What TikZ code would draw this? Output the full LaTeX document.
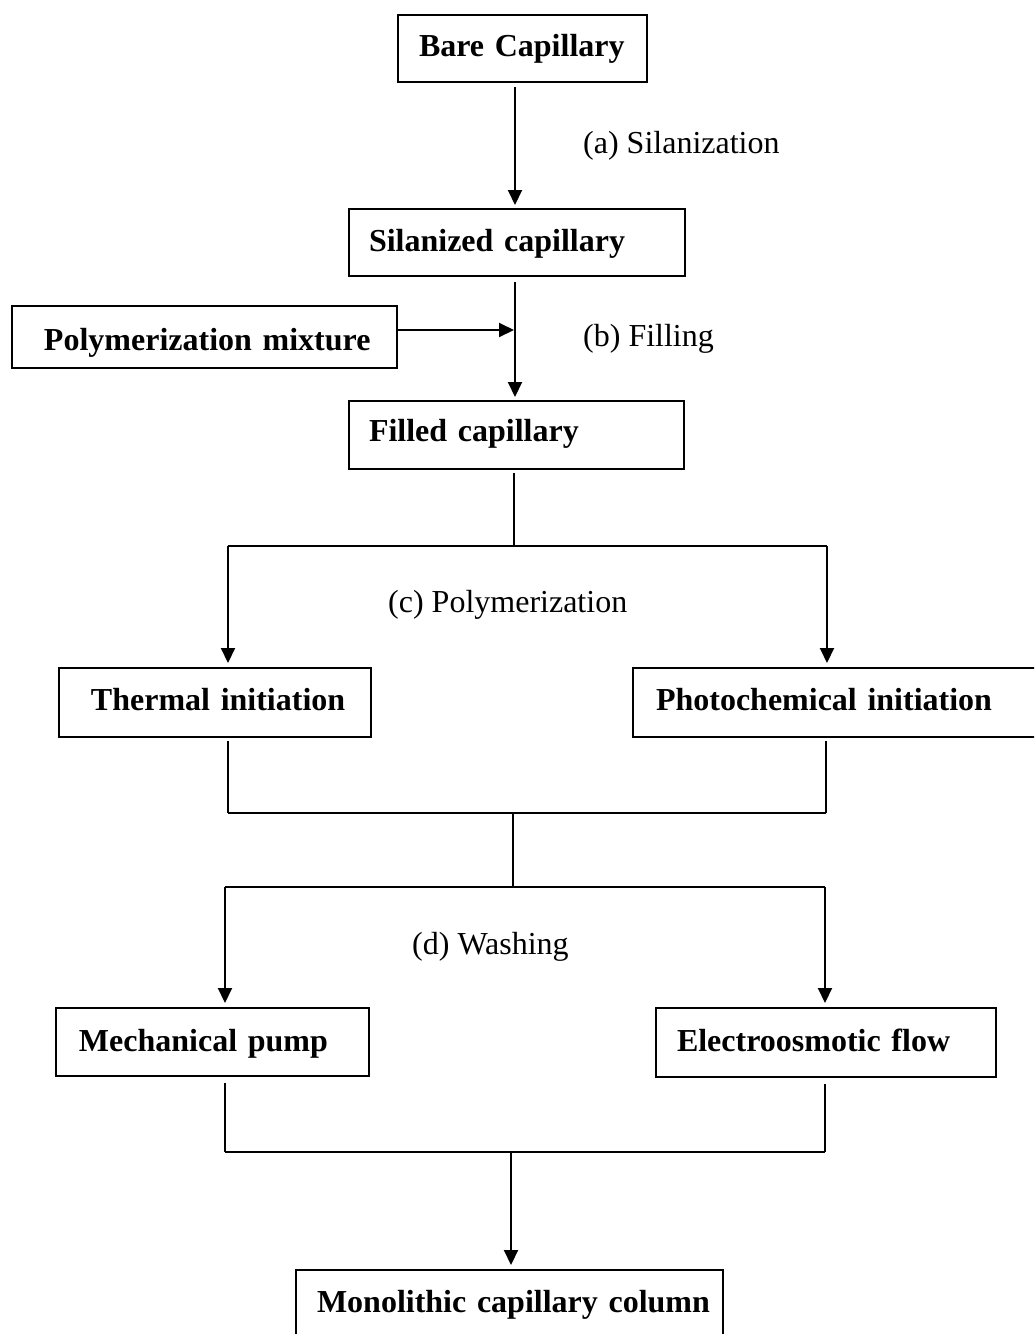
\documentclass[tikz,border=0pt]{standalone}
\usepackage{fontspec}
\setmainfont{Liberation Serif}[BoldFeatures={WordSpace=0.65}]
\usetikzlibrary{arrows.meta}
\begin{document}
\begin{tikzpicture}[x=1pt,y=-1pt,
  box/.style={draw, line width=2pt, inner xsep=0pt, inner ysep=0pt, align=left,
    font=\fontsize{32}{38}\selectfont\bfseries, anchor=base west},
  lab/.style={inner sep=0pt, anchor=base west, font=\fontsize{32}{38}\selectfont},
  ln/.style={line width=2pt},
  arr/.style={line width=2pt, -{Triangle[length=15pt,width=14pt]}}]
\useasboundingbox (0,0) rectangle (1034,1334);
\clip (0,0) rectangle (1034,1334);
% boxes: left, baseline; text width = box width; text height = baseline-top; text depth = bottom-baseline
\node[box, text width=249pt, text height=41pt, text depth=26pt] (bare) at (397,56) {\hspace*{21pt}Bare Capillary};
\node[box, text width=336pt, text height=42pt, text depth=25pt] (sil) at (348,251) {\hspace*{20pt}Silanized capillary};
\node[box, text width=385pt, text height=44pt, text depth=18pt] (mix) at (11,350) {\hspace*{32pt}Polymerization mixture};
\node[box, text width=335pt, text height=40pt, text depth=28pt] (fill) at (348,441) {\hspace*{20pt}Filled capillary};
\node[box, text width=312pt, text height=42pt, text depth=27pt] (therm) at (58,710) {\hspace*{32pt}Thermal initiation};
\node[box, text width=413pt, text height=42pt, text depth=27pt] (photo) at (632,710) {\hspace*{23pt}Photochemical initiation};
\node[box, text width=313pt, text height=43pt, text depth=25pt] (mech) at (55,1051) {\hspace*{23pt}Mechanical pump};
\node[box, text width=340pt, text height=43pt, text depth=26pt] (electro) at (655,1051) {\hspace*{21pt}Electroosmotic flow};
\node[box, text width=427pt, text height=42pt, text depth=45pt] (mono) at (295,1312) {\hspace*{21pt}Monolithic capillary column};
% labels
\node[lab] (la) at (583,153) {(a) Silanization};
\node[lab] (lb) at (583,346) {(b) Filling};
\node[lab] (lc) at (388,612) {(c) Polymerization};
\node[lab] (ld) at (412,954) {(d) Washing};
% junction coordinates
\coordinate (xa) at (515,0);
\coordinate (jb) at (515,330);
\coordinate (j1) at (514,546);
\coordinate (j1l) at (228,546);
\coordinate (j1r) at (827,546);
\coordinate (j2l) at (228,813);
\coordinate (j2r) at (826,813);
\coordinate (j2) at (513,813);
\coordinate (j3) at (513,887);
\coordinate (j3l) at (225,887);
\coordinate (j3r) at (825,887);
\coordinate (j4l) at (225,1152);
\coordinate (j4r) at (825,1152);
\coordinate (j4) at (511,1152);
% connectors
\draw[arr, shorten <=4pt, shorten >=3pt] (bare.south -| xa) -- (sil.north -| xa);
\draw[arr, shorten <=5pt, shorten >=3pt] (sil.south -| xa) -- (fill.north -| xa);
\draw[arr, shorten >=1pt] (mix.east |- jb) -- (jb);
\draw[ln, shorten <=3pt] (fill.south -| j1) -- (j1);
\draw[ln] (j1l) -- (j1r);
\draw[arr, shorten >=4pt] (j1l) -- (therm.north -| j1l);
\draw[arr, shorten >=4pt] (j1r) -- (photo.north -| j1r);
\draw[ln, shorten <=3pt] (therm.south -| j2l) -- (j2l);
\draw[ln, shorten <=3pt] (photo.south -| j2r) -- (j2r);
\draw[ln] (j2l) -- (j2r);
\draw[ln] (j2) -- (j3);
\draw[ln] (j3l) -- (j3r);
\draw[arr, shorten >=4pt] (j3l) -- (mech.north -| j3l);
\draw[arr, shorten >=4pt] (j3r) -- (electro.north -| j3r);
\draw[ln, shorten <=6pt] (mech.south -| j4l) -- (j4l);
\draw[ln, shorten <=6pt] (electro.south -| j4r) -- (j4r);
\draw[ln] (j4l) -- (j4r);
\draw[arr, shorten >=4pt] (j4) -- (mono.north -| j4);
\end{tikzpicture}
\end{document}
